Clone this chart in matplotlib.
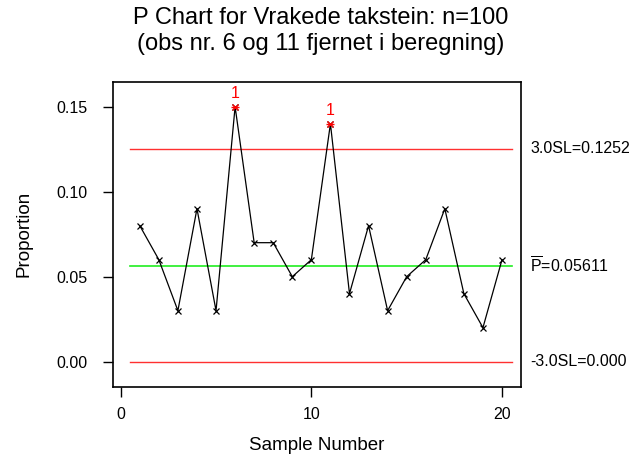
import matplotlib
matplotlib.use("Agg")
import matplotlib.pyplot as plt
import numpy as np

plt.rcParams['font.family'] = ['Liberation Sans', 'DejaVu Sans']
plt.rcParams['mathtext.fontset'] = 'custom'
plt.rcParams['mathtext.rm'] = 'Liberation Sans'

samples = list(range(1, 21))
proportion = [0.08, 0.06, 0.03, 0.09, 0.03, 0.15, 0.07, 0.07, 0.05, 0.06,
              0.14, 0.04, 0.08, 0.03, 0.05, 0.06, 0.09, 0.04, 0.02, 0.06]
flagged = [6, 11]
ucl = 0.1252
center = 0.05611
lcl = 0.0
xticks = [0, 10, 20]
yticks = [0.00, 0.05, 0.10, 0.15]

fig = plt.figure(figsize=(6.36, 4.54), dpi=100)
ax = fig.add_axes([0.1772, 0.1476, 0.6415, 0.6724])

ax.plot(samples, proportion, color='black', lw=0.9, marker='x', ms=4, mew=0.9, zorder=3)
fx = [s for s in flagged]
fy = [proportion[s - 1] for s in flagged]
ax.plot(fx, fy, ls='none', marker='x', ms=5, mew=1.0, color='red', zorder=4)
ax.plot(fx, fy, ls='none', marker='_', ms=6, mew=1.0, color='red', zorder=4)
for x, y in zip(fx, fy):
    ax.annotate('1', (x, y), xytext=(0, 4), textcoords='offset points',
                ha='center', va='bottom', color='red', fontsize=11.5)

xs = [samples[0] - 0.5, samples[-1] + 0.5]
ax.plot(xs, [ucl, ucl], color='#ff3030', lw=1.0, zorder=2)
ax.plot(xs, [lcl, lcl], color='#ff3030', lw=1.0, zorder=2)
ax.plot(xs, [center, center], color='#20ee20', lw=1.2, zorder=2)

tr = ax.get_yaxis_transform()
ax.text(1.0228, ucl, f'3.0SL={ucl:.4f}', transform=tr, va='center', ha='left', fontsize=11.5)
ax.text(1.0228, center, r'$\overline{\mathrm{P}}$' + f'={center:.5f}', transform=tr,
        va='center', ha='left', fontsize=11.5)
ax.text(1.0228, lcl, f'-3.0SL={lcl:.3f}', transform=tr, va='center', ha='left', fontsize=11.5)

ax.set_xlim(-0.42, 20.98)
ax.set_ylim(-0.0149, 0.1647)
ax.set_xticks(xticks)
ax.set_yticks(yticks)
ax.set_yticklabels([f'{v:.2f}' for v in yticks])
ax.tick_params(direction='out', length=7.5, width=1, labelsize=11.5)
ax.tick_params(axis='x', pad=7)
ax.tick_params(axis='y', pad=10.5)
for s in ax.spines.values():
    s.set_linewidth(1.2)

ax.set_xlabel('Sample Number', fontsize=13.5, labelpad=11)
ax.set_ylabel('Proportion', fontsize=13.5, labelpad=17)
fig.text(0.505, 0.932, 'P Chart for Vrakede takstein: n=100\n(obs nr. 6 og 11 fjernet i beregning)',
         ha='center', va='center', fontsize=17, linespacing=1.2)

fig.savefig('out.png', dpi=100)
